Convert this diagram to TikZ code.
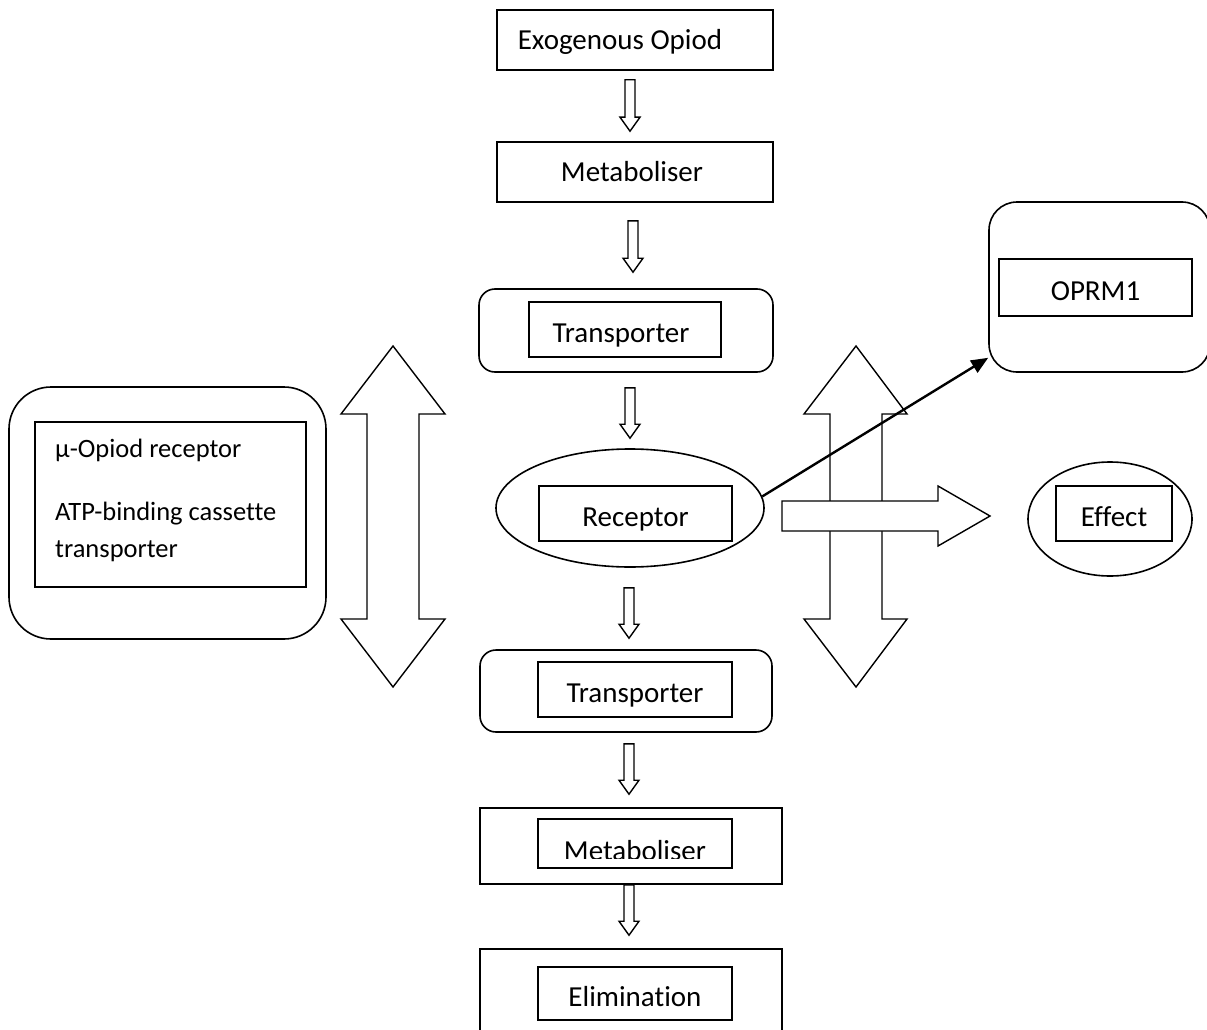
\documentclass[tikz,border=0pt]{standalone}
\usepackage{fontspec}
\setmainfont{Carlito}[Ligatures=NoCommon]
\usetikzlibrary{shapes.geometric,arrows.meta,calc}
\tikzset{
  every node/.style={font=\fontsize{29}{36}\selectfont},
  frame/.style={draw, line width=1.6pt, rectangle, inner sep=0pt, fill=white},
  capmid/.style={text height=19pt, text depth=0pt},
  caplow/.style={text height=25pt, text depth=0pt},
  roundframe/.style={frame, rounded corners=#1},
  oval/.style={draw, line width=1.6pt, ellipse, inner sep=0pt, fill=white},
  fat/.style={draw, line width=1.4pt, fill=white, line join=miter},
  plain/.style={inner sep=0pt, anchor=base west, font=\fontsize{26.5}{32}\selectfont},
  link/.style={line width=2.4pt, -{Triangle[length=17pt,width=14pt]}}
}
% fat down arrow between two nodes: #1 upper node, #2 lower node,
% #3 gap below upper, #4 gap above lower, #5 x offset
\newcommand{\fatdown}[5]{%
  \draw[fat] let \p1=(#1.south), \p2=(#2.north) in
    (\x1+#5pt-5pt,\y1-#3pt) -- (\x1+#5pt+5pt,\y1-#3pt)
    -- (\x1+#5pt+5pt,\y2+#4pt+14pt) -- (\x1+#5pt+10pt,\y2+#4pt+14pt)
    -- (\x1+#5pt,\y2+#4pt) -- (\x1+#5pt-10pt,\y2+#4pt+14pt)
    -- (\x1+#5pt-5pt,\y2+#4pt+14pt) -- cycle;}
\begin{document}
\begin{tikzpicture}[x=1pt,y=-1pt]
\clip (0,0) rectangle (1207,1030);
\fill[white] (0,0) rectangle (1207,1030);

% main column
\node[frame, capmid, minimum width=276, minimum height=60] (ex) at (635,40) {Exogenous Opiod\hspace*{30pt}};
\node[frame, capmid, minimum width=276, minimum height=60] (met1) at (635,172) {Metaboliser\hspace*{6pt}};

\node[roundframe=16, minimum width=294, minimum height=83] (tr1) at (626,330.5) {};
\node[frame, caplow, minimum width=192, minimum height=55] (tr1in) at (625,329.5) {Transporter\hspace*{8pt}};

\node[oval, minimum width=268, minimum height=118] (rec) at (630,508) {};
\node[frame, caplow, minimum width=193, minimum height=55] (recin) at (635.5,513.5) {Receptor};

\node[roundframe=16, minimum width=292, minimum height=82] (tr2) at (626,691) {};
\node[frame, caplow, minimum width=194, minimum height=55] (tr2in) at (635,689.5) {Transporter};

\node[frame, minimum width=302, minimum height=76] (met2) at (631,846) {};
\node[frame, minimum width=194, minimum height=49] (met2in) at (635,843.5) {};
\begin{scope}
  \clip (540,820) rectangle (730,858);
  \node[inner sep=0pt, anchor=base] (met2txt) at (635,860) {Metaboliser};
\end{scope}

\node[frame, minimum width=302, minimum height=92] (el) at (631,995) {};
\node[frame, caplow, minimum width=194, minimum height=53] (elin) at (635,993.5) {Elimination};

% left box
\node[roundframe=42, minimum width=317, minimum height=252] (lb) at (167.5,513) {};
\node[frame, minimum width=271, minimum height=165] (lbin) at (170.5,504.5) {};
\node[plain] (t1) at (55,457) {µ-Opiod receptor};
\node[plain] (t2) at (55,520) {ATP-binding cassette};
\node[plain] (t3) at (55,557) {transporter};

% OPRM1 box
\node[roundframe=28, minimum width=221, minimum height=170] (oprm) at (1099.5,287) {};
\node[frame, caplow, minimum width=193, minimum height=57] (oprmin) at (1095.5,287.5) {OPRM1};

% Effect
\node[oval, minimum width=164, minimum height=114] (eff) at (1110,519) {};
\node[frame, caplow, minimum width=116, minimum height=55] (effin) at (1114,513.5) {Effect};

% small down arrows
\fatdown{ex}{met1}{9}{10}{-5}
\fatdown{met1}{tr1}{18}{16}{-2}
\fatdown{tr1}{rec}{15}{10}{4}
\fatdown{rec}{tr2}{20}{11}{-1}
\fatdown{tr2}{met2}{11}{13}{3}
\fatdown{met2}{el}{0}{13}{-2}

% double arrows
\draw[fat] (367,414) -- (341,414) -- (393,346) -- (445,414) -- (419,414)
  -- (419,619) -- (445,619) -- (393,687) -- (341,619) -- (367,619) -- cycle;
\draw[fat] (830,414) -- (804,414) -- (856,346) -- (907,414) -- (882,414)
  -- (882,619) -- (907,619) -- (856,687) -- (804,619) -- (830,619) -- cycle;
% right arrow
\draw[fat] (782,501) -- (938,501) -- (938,486) -- (990,516) -- (938,546)
  -- (938,531) -- (782,531) -- cycle;

% link to OPRM1
\coordinate (oprmin-pt) at ($(oprm.south west)+(0,-15)$);
\draw[link] (rec.5) -- (oprmin-pt);
\end{tikzpicture}
\end{document}
